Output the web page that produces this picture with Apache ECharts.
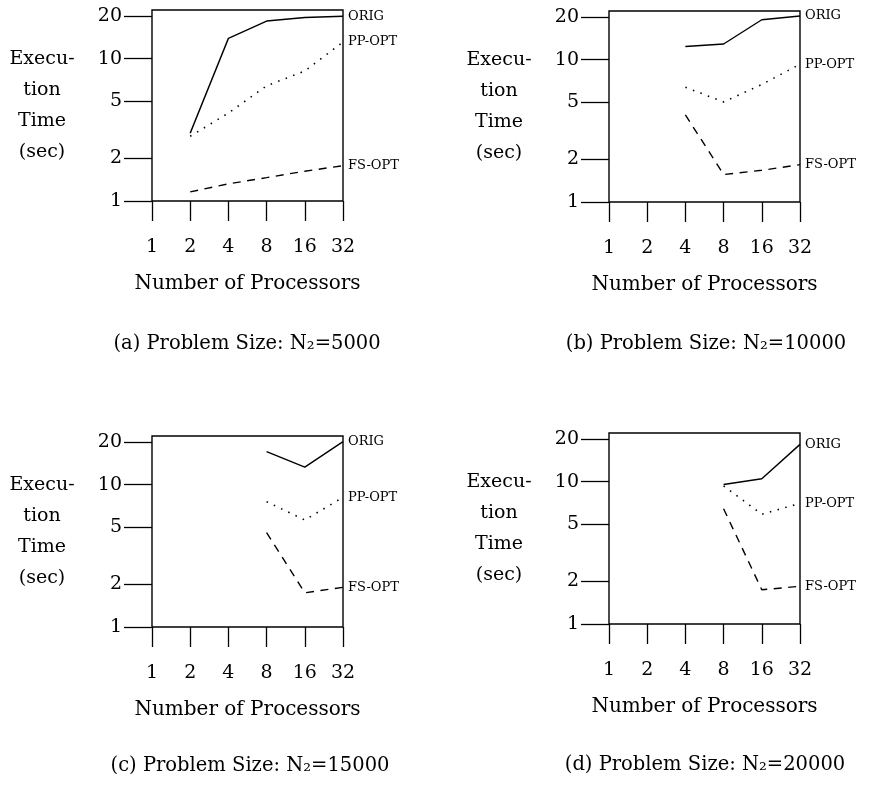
<!doctype html>
<html>
<head>
<meta charset="UTF-8">
<title>Execution Time vs Number of Processors</title>
<script src="https://cdn.jsdelivr.net/npm/echarts@6/dist/echarts.min.js"></script>
<style>
  html, body { margin: 0; padding: 0; background: #fff; }
  #chart { width: 875px; height: 785px; }
</style>
</head>
<body>
<div id="chart"></div>
<script>
// x ticks (number of processors) and y ticks (seconds, log scale)
var procs = [1, 2, 4, 8, 16, 32];
var yTicks = [1, 2, 5, 10, 20];
var seriesNames = ['ORIG', 'PP-OPT', 'FS-OPT'];

// values per panel, aligned with procs (null = not measured)
var origA = [null, 3.0, 13.9, 18.4, 19.5, 19.9];
var ppA   = [null, 2.85, 4.15, 6.45, 8.2, 13.1];
var fsA   = [null, 1.16, 1.32, 1.46, 1.62, 1.77];

var origB = [null, null, 12.4, 12.9, 19.1, 20.3];
var ppB   = [null, null, 6.4, 5.05, 6.7, 9.3];
var fsB   = [null, null, 4.1, 1.56, 1.67, 1.83];

var origC = [null, null, null, 17.1, 13.3, 20.1];
var ppC   = [null, null, null, 7.6, 5.65, 8.15];
var fsC   = [null, null, null, 4.6, 1.74, 1.9];

var origD = [null, null, null, 9.55, 10.5, 18.3];
var ppD   = [null, null, null, 9.35, 5.9, 7.05];
var fsD   = [null, null, null, 6.45, 1.74, 1.84];

var captions = [
  '(a) Problem Size: N\u2082=5000',
  '(b) Problem Size: N\u2082=10000',
  '(c) Problem Size: N\u2082=15000',
  '(d) Problem Size: N\u2082=20000'
];

var panels = [
  { left: 152, top: 10,  cx: 247, cy: 344, data: [origA, ppA, fsA] },
  { left: 609, top: 11,  cx: 706, cy: 344, data: [origB, ppB, fsB] },
  { left: 152, top: 436, cx: 250, cy: 766, data: [origC, ppC, fsC] },
  { left: 609, top: 433, cx: 705, cy: 765, data: [origD, ppD, fsD] }
];

var FONT = 'DejaVu Serif';
var lineTypes = ['solid', [1.5, 6.5], [8, 6.5]];
var lineWidths = [1.4, 1.6, 1.4];

function toPairs(vals) {
  var out = [];
  for (var i = 0; i < procs.length; i++) {
    if (vals[i] != null) out.push([procs[i], vals[i]]);
  }
  return out;
}

var grids = [], xAxes = [], yAxes = [], series = [], graphics = [];

for (var p = 0; p < panels.length; p++) {
  var pn = panels[p];
  // the grid border draws the box; axis lines are hidden so all four sides match
  grids.push({
    left: pn.left, top: pn.top, width: 191, height: 191,
    show: true, borderColor: '#000', borderWidth: 1.4,
    backgroundColor: 'transparent', containLabel: false
  });
  xAxes.push({
    gridIndex: p, type: 'log', logBase: 2, min: 1, max: 32,
    name: 'Number of Processors', nameLocation: 'middle', nameGap: 73,
    nameTextStyle: { fontFamily: FONT, fontSize: 20, color: '#000' },
    axisLine: { show: false },
    axisTick: { show: true, inside: false, length: 20, customValues: procs,
                lineStyle: { color: '#000', width: 1.3 } },
    axisLabel: { customValues: procs, margin: 37, fontFamily: FONT, fontSize: 19, color: '#000' },
    splitLine: { show: false }, minorTick: { show: false }
  });
  yAxes.push({
    gridIndex: p, type: 'log', logBase: 10, min: 1, max: 22,
    name: 'Execu-\ntion\nTime\n(sec)', nameLocation: 'middle', nameRotate: 0, nameGap: 110,
    nameTextStyle: { fontFamily: FONT, fontSize: 19, color: '#000', align: 'center',
                     verticalAlign: 'middle', lineHeight: 31 },
    axisLine: { show: false },
    axisTick: { show: true, inside: false, length: 28, customValues: yTicks,
                lineStyle: { color: '#000', width: 1.3 } },
    axisLabel: { customValues: yTicks, margin: 30, fontFamily: FONT, fontSize: 19, color: '#000' },
    splitLine: { show: false }, minorTick: { show: false }
  });
  for (var s = 0; s < 3; s++) {
    series.push({
      name: seriesNames[s], type: 'line', xAxisIndex: p, yAxisIndex: p,
      data: toPairs(pn.data[s]), showSymbol: false, symbol: 'none', silent: true,
      lineStyle: { color: '#000', width: lineWidths[s], type: lineTypes[s] },
      endLabel: { show: true, formatter: '{a}', distance: 5, fontFamily: FONT,
                  fontSize: 13, color: '#000' }
    });
  }
  graphics.push({
    type: 'text', x: pn.cx, y: pn.cy,
    style: { text: captions[p], align: 'center', verticalAlign: 'middle',
             font: '19.5px "DejaVu Serif"', fill: '#000' }
  });
}

var chart = echarts.init(document.getElementById('chart'), null, { renderer: 'canvas' });
chart.setOption({
  animation: false,
  backgroundColor: '#fff',
  grid: grids,
  xAxis: xAxes,
  yAxis: yAxes,
  series: series,
  graphic: graphics
});
</script>
</body>
</html>
